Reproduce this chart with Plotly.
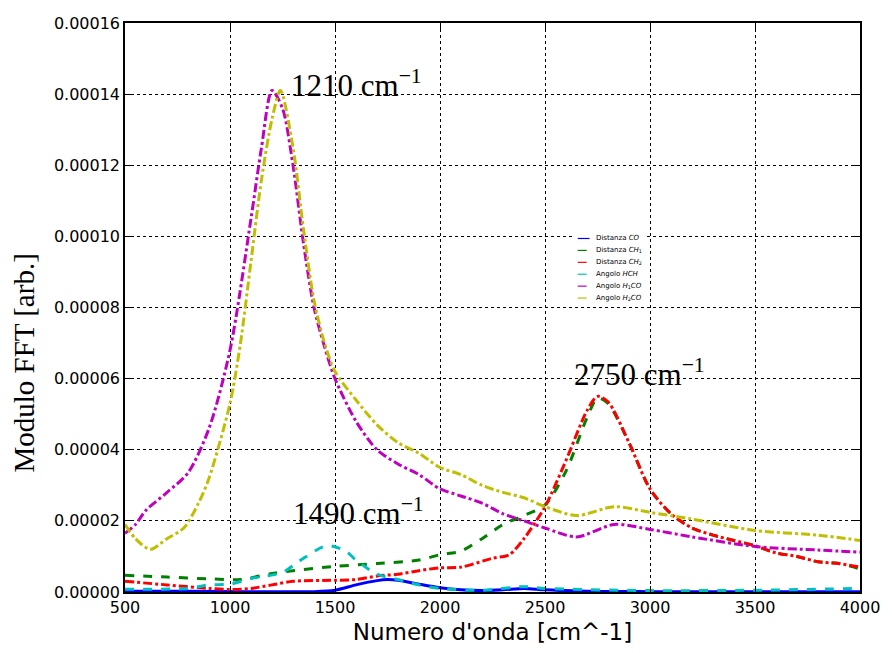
import plotly.graph_objects as go

# ---- data (values in units of 1e-5) ----
x_co   = [500, 800, 1100, 1400, 1500, 1600, 1700, 1750, 1800, 1900, 2000, 2100, 2200, 2300, 2400, 2500, 2700, 3000, 3500, 4000]
y_co   = [0.02, 0.02, 0.01, 0.01, 0.05, 0.2, 0.32, 0.35, 0.33, 0.22, 0.12, 0.06, 0.04, 0.06, 0.1, 0.06, 0.02, 0.01, 0.01, 0.01]

x_ch1  = [500, 700, 900, 1050, 1200, 1300, 1500, 1700, 1900, 2000, 2100, 2200, 2300, 2400, 2500, 2600, 2700, 2750, 2800, 2900, 3000, 3100, 3200, 3300, 3400, 3500, 3600, 3700, 3800, 3900, 4000]
y_ch1  = [0.47, 0.42, 0.37, 0.35, 0.52, 0.6, 0.72, 0.8, 0.9, 1.05, 1.15, 1.5, 1.9, 2.15, 2.45, 3.4, 4.9, 5.45, 5.3, 4.2, 2.9, 2.2, 1.8, 1.6, 1.45, 1.3, 1.1, 1.0, 0.85, 0.8, 0.65]

x_ch2  = [500, 700, 900, 1000, 1100, 1200, 1300, 1500, 1600, 1700, 1800, 1900, 2000, 2100, 2250, 2330, 2400, 2500, 2600, 2700, 2750, 2800, 2900, 3000, 3100, 3200, 3300, 3400, 3500, 3600, 3700, 3800, 3900, 4000]
y_ch2  = [0.3, 0.2, 0.1, 0.07, 0.1, 0.2, 0.3, 0.33, 0.35, 0.45, 0.5, 0.6, 0.68, 0.7, 0.95, 1.05, 1.5, 2.4, 3.7, 5.1, 5.5, 5.35, 4.2, 2.9, 2.2, 1.8, 1.6, 1.45, 1.3, 1.1, 1.0, 0.85, 0.8, 0.7]

x_hch  = [500, 800, 900, 1000, 1100, 1250, 1330, 1460, 1550, 1600, 1700, 1800, 1900, 2000, 2200, 2400, 2500, 3000, 3500, 4000]
y_hch  = [0.08, 0.1, 0.2, 0.22, 0.38, 0.55, 0.87, 1.3, 1.15, 0.9, 0.5, 0.35, 0.2, 0.1, 0.05, 0.15, 0.1, 0.04, 0.05, 0.1]

x_h1co = [500, 550, 600, 700, 800, 900, 1000, 1100, 1150, 1200, 1250, 1300, 1350, 1400, 1450, 1500, 1600, 1700, 1800, 1900, 2000, 2100, 2200, 2300, 2400, 2500, 2650, 2830, 3000, 3200, 3500, 3800, 4000]
y_h1co = [1.65, 1.9, 2.3, 2.8, 3.35, 4.6, 6.8, 10.5, 12.5, 14.1, 13.6, 12.0, 9.8, 8.0, 6.9, 6.0, 4.8, 4.0, 3.6, 3.3, 2.9, 2.7, 2.5, 2.2, 2.0, 1.8, 1.55, 1.9, 1.76, 1.55, 1.28, 1.18, 1.12]

x_h2co = [500, 550, 620, 700, 780, 850, 900, 1000, 1050, 1100, 1150, 1200, 1240, 1300, 1350, 1400, 1450, 1500, 1600, 1700, 1800, 1900, 2000, 2100, 2200, 2300, 2400, 2500, 2650, 2830, 3000, 3200, 3500, 3800, 4000]
y_h2co = [1.9, 1.5, 1.2, 1.5, 1.8, 2.5, 3.2, 5.3, 7.0, 9.3, 11.6, 13.3, 14.1, 12.5, 10.2, 8.2, 7.0, 6.2, 5.4, 4.7, 4.2, 3.9, 3.5, 3.3, 3.0, 2.8, 2.65, 2.4, 2.15, 2.4, 2.24, 2.05, 1.73, 1.6, 1.45]

names  = ["Distanza <i>CO</i>", "Distanza <i>CH</i><sub>1</sub>", "Distanza <i>CH</i><sub>2</sub>",
          "Angolo <i>HCH</i>", "Angolo <i>H</i><sub>1</sub><i>CO</i>", "Angolo <i>H</i><sub>2</sub><i>CO</i>"]
xs_all = [x_co, x_ch1, x_ch2, x_hch, x_h1co, x_h2co]
ys_all = [y_co, y_ch1, y_ch2, y_hch, y_h1co, y_h2co]
colors = ["#0000FF", "#008000", "#FF0000", "#00BFBF", "#BF00BF", "#BFBF00"]
dashes = ["solid", "dash", "dashdot", "dash", "dashdot", "dashdot"]

peak_x = [1280, 2630, 1290]
peak_y = [13.7, 5.56, 1.65]
peak_txt = ["1210 cm<sup>\u22121</sup>", "2750 cm<sup>\u22121</sup>", "1490 cm<sup>\u22121</sup>"]

fig = go.Figure()
for name, xs, ys, col, dash in zip(names, xs_all, ys_all, colors, dashes):
    fig.add_trace(go.Scatter(x=xs, y=[v * 1e-5 for v in ys], name=name, mode="lines", showlegend=False,
                             line=dict(color=col, width=3, dash=dash, shape="spline", smoothing=0.8)))

for px_, py_, txt in zip(peak_x, peak_y, peak_txt):
    fig.add_annotation(x=px_, y=py_ * 1e-5, text=txt, showarrow=False,
                       xanchor="left", yanchor="bottom",
                       font=dict(family="Liberation Serif", size=31, color="black"))

# small legend box (drawn in paper coordinates)
L, R, B, T = 125, 867, 596, 23
def px(v): return (v - L) / (R - L)
def py(v): return (B - v) / (B - T)
fig.add_shape(type="rect", xref="paper", yref="paper", x0=px(577), x1=px(652), y0=py(307), y1=py(233),
              fillcolor="white", line=dict(width=0), layer="above")
for i, (name, col, dash) in enumerate(zip(names, colors, dashes)):
    yy = py(240 + 12 * i)
    fig.add_shape(type="line", xref="paper", yref="paper", x0=px(582), x1=px(594), y0=yy, y1=yy,
                  line=dict(color=col, width=1.2, dash=dash), layer="above")
    fig.add_annotation(xref="paper", yref="paper", x=px(598), y=yy, text=name, showarrow=False,
                       xanchor="left", yanchor="middle",
                       font=dict(family="DejaVu Sans", size=7, color="black"))

# y-axis label
fig.add_annotation(xref="paper", yref="paper", x=px(23), y=py(365), text="Modulo FFT [arb.]",
                   textangle=-90, showarrow=False, xanchor="center", yanchor="middle",
                   font=dict(family="Liberation Serif", size=29, color="black"))

axis_common = dict(showline=True, linecolor="black", linewidth=1.5, mirror="ticks", ticks="inside",
                   ticklen=6, tickcolor="black", showgrid=True, gridcolor="black", griddash="dot",
                   gridwidth=1, zeroline=False, tickfont=dict(family="DejaVu Sans", size=16, color="black"))

fig.update_layout(
    width=892, height=653,
    margin=dict(l=125, r=25, t=23, b=57),
    paper_bgcolor="white", plot_bgcolor="white",
    xaxis=dict(range=[500, 4000], dtick=500, **axis_common,
               title=dict(text="Numero d'onda [cm^-1]", standoff=8,
                          font=dict(family="DejaVu Sans", size=23, color="black"))),
    yaxis=dict(range=[0, 0.00016], dtick=0.00002, tickformat=".5f", **axis_common),
    showlegend=False,
)

fig.write_html("out.html")
